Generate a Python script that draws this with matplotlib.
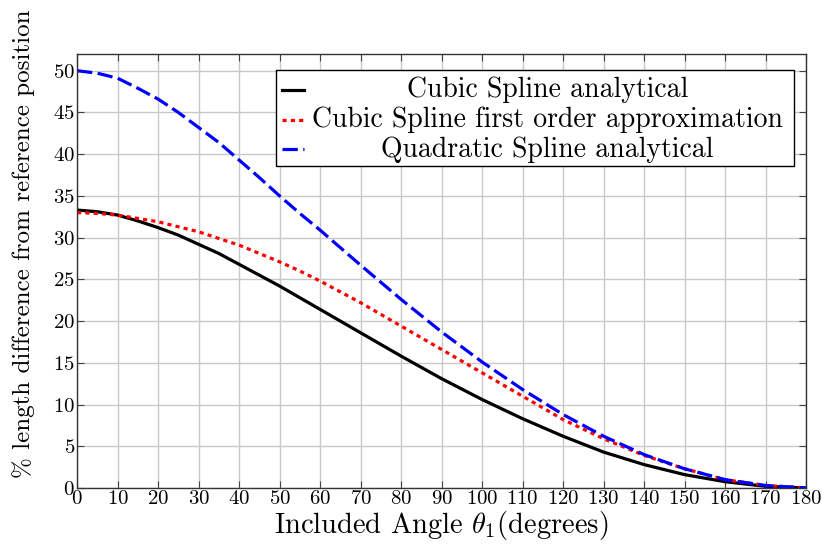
import matplotlib
matplotlib.use("Agg")
import matplotlib.pyplot as plt
from matplotlib.lines import Line2D
from matplotlib.patches import Rectangle

plt.rcParams['font.family'] = ['cmr10', 'DejaVu Serif']
plt.rcParams['mathtext.fontset'] = 'cm'
plt.rcParams['axes.formatter.use_mathtext'] = True

# angle in degrees
angle = [0, 5, 10, 15, 20, 25, 30, 35, 40, 45, 50, 55, 60,
         70, 80, 90, 100, 110, 120, 130, 140, 150, 160, 170, 180]
cubic = [33.3, 33.1, 32.7, 32.0, 31.2, 30.3, 29.2, 28.1, 26.8, 25.5, 24.2, 22.8, 21.4,
         18.6, 15.8, 13.1, 10.6, 8.3, 6.2, 4.3, 2.8, 1.6, 0.75, 0.2, 0.0]
cubic_approx = [33.0, 32.9, 32.7, 32.3, 31.9, 31.3, 30.7, 29.9, 29.1, 28.1, 27.1, 26.0, 24.8,
                22.2, 19.4, 16.6, 13.8, 11.0, 8.2, 5.9, 3.9, 2.3, 1.0, 0.3, 0.0]
quadratic = [50.0, 49.7, 49.1, 47.9, 46.6, 45.0, 43.2, 41.4, 39.3, 37.2, 35.0, 32.9, 30.9,
             26.7, 22.6, 18.7, 15.1, 11.8, 8.8, 6.2, 4.0, 2.3, 1.0, 0.3, 0.0]

labels = ["Cubic Spline analytical",
          "Cubic Spline first order approximation",
          "Quadratic Spline analytical"]

fig = plt.figure(figsize=(8.22, 5.47), dpi=100)
ax = fig.add_axes([0.0937, 0.1079, 0.887, 0.7934])

styles = [dict(color='black', linestyle='-'),
          dict(color='red', linestyle=(0, (1.3, 1.3)), dash_capstyle='butt'),
          dict(color='blue', linestyle=(0, (4.8, 1.7)), dash_capstyle='butt')]
for ys, st in zip([cubic, cubic_approx, quadratic], styles):
    ax.plot(angle, ys, lw=2.3, **st)

ax.set_xlim(0, 180)
ax.set_ylim(0, 52)
ax.set_xticks(range(0, 181, 10))
ax.set_yticks(range(0, 51, 5))
ax.grid(True, color='#c8c8c8', lw=1.0)
ax.set_axisbelow(True)
ax.tick_params(direction='in', top=True, right=True, length=5, width=0.8,
               labelsize=15, pad=1.5, color='#444444')
for s in ax.spines.values():
    s.set_linewidth(1.0)
    s.set_color('#333333')

ax.set_xlabel(r"Included Angle $\theta_1$(degrees)", fontsize=20.5, labelpad=1)
ax.set_ylabel("% length difference from reference position", fontsize=18)
ax.yaxis.set_label_coords(-0.058, 0.562)

# legend drawn by hand so the text is centred like the original
ax.add_patch(Rectangle((0.273, 0.742), 0.7105, 0.221, transform=ax.transAxes,
                       facecolor='white', edgecolor='black', lw=1.0, zorder=5))
rows = [0.918, 0.849, 0.780]
for y, lab, st in zip(rows, labels, styles):
    ax.add_line(Line2D([0.281, 0.311], [y, y], transform=ax.transAxes, lw=2.3,
                       zorder=6, **st))
    ax.text(0.645, y, lab, transform=ax.transAxes, ha='center', va='center',
            fontsize=20, zorder=6)

fig.savefig("out.png", dpi=100)
